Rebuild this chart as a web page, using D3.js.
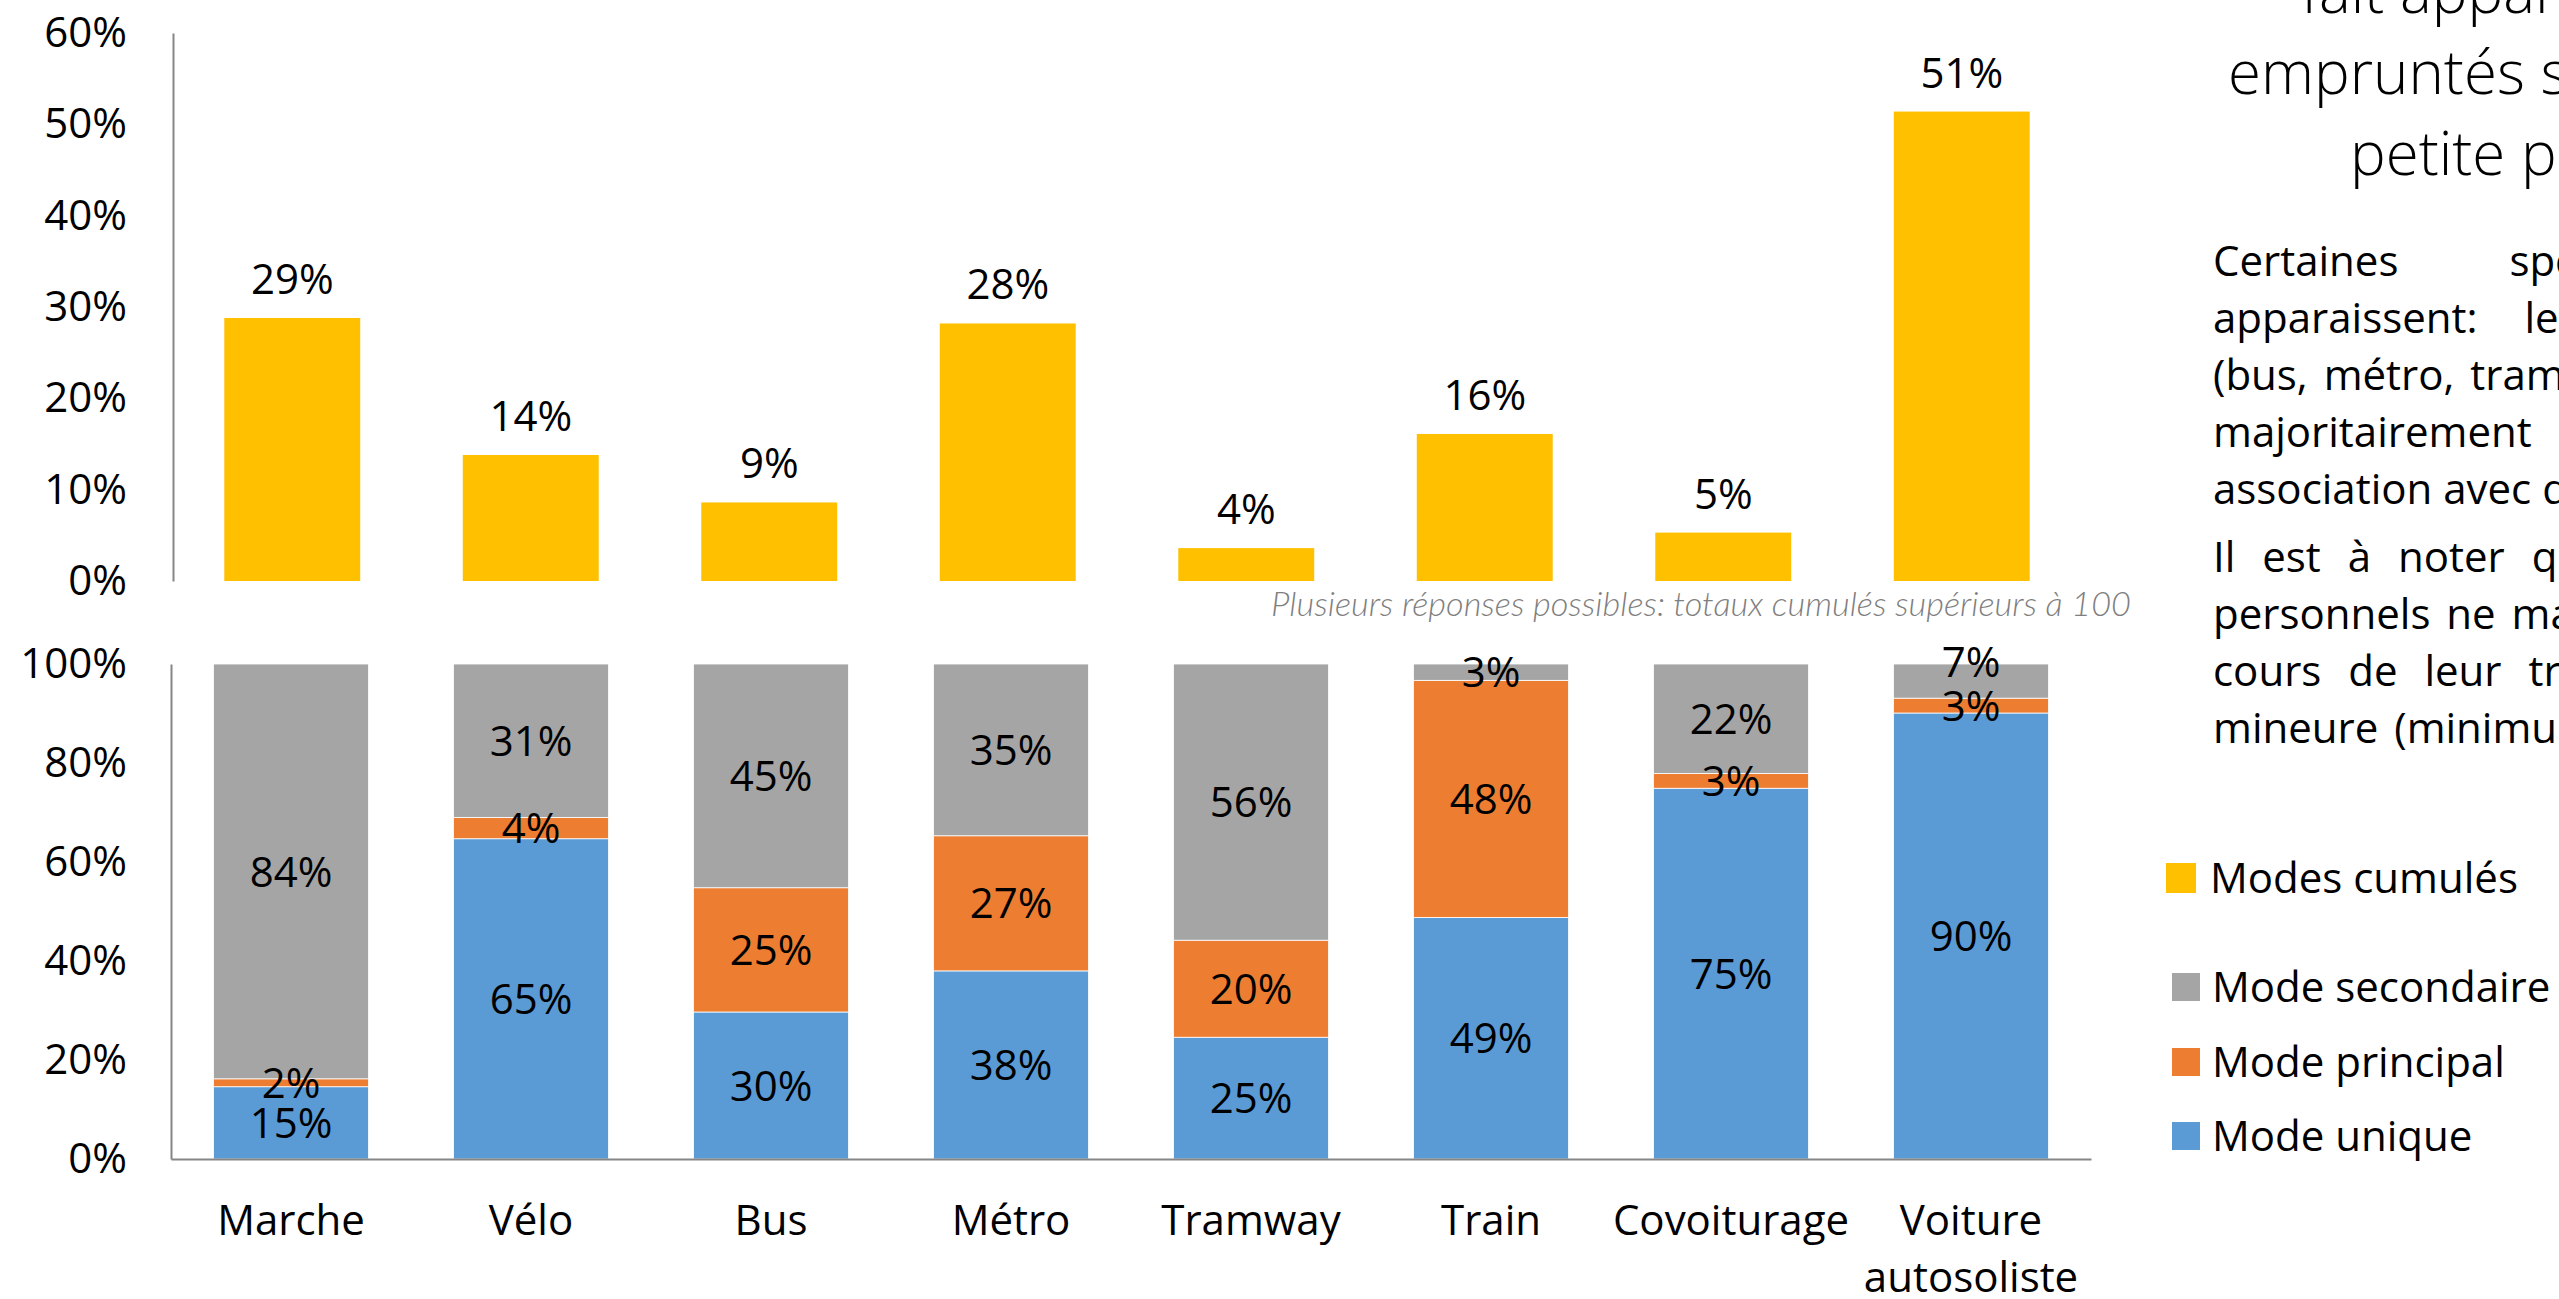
<!DOCTYPE html>
<html>
<head>
<meta charset="utf-8">
<script src="https://cdn.jsdelivr.net/npm/d3@7"></script>
<style>
  html, body { margin: 0; padding: 0; background: #fff; overflow: hidden; }
  svg { display: block; font-family: "Open Sans", sans-serif; }
</style>
</head>
<body>
<svg id="viz" width="2559" height="1299"></svg>
<script>
// --- data ---
const modes = ["Marche", "Vélo", "Bus", "Métro", "Tramway", "Train", "Covoiturage", "Voiture autosoliste"];
const cumules = [28.8, 13.8, 8.6, 28.2, 3.6, 16.1, 5.3, 51.4];
const unique = [14.6, 64.7, 29.7, 38.0, 24.6, 48.8, 74.9, 90.1];
const principal = [1.6, 4.3, 25.1, 27.3, 19.6, 47.9, 3.0, 3.0];
const secondaire = [83.8, 31.0, 45.2, 34.7, 55.8, 3.3, 22.1, 6.9];
const topTicks = [0, 10, 20, 30, 40, 50, 60];
const bottomTicks = [0, 20, 40, 60, 80, 100];
const legendNames = ["Modes cumulés", "Mode secondaire", "Mode principal", "Mode unique"];
const noteText = "Plusieurs réponses possibles: totaux cumulés supérieurs à 100";
const titleLines = ["fait apparaître que les modes", "empruntés seuls ne sont qu'une", "petite partie des trajets"];
const paraLines = [
  "Certaines spécificités",
  "apparaissent: les transports",
  "(bus, métro, tramway) sont",
  "majoritairement utilisés en",
  "association avec d'autres modes.",
  "Il est à noter que les modes",
  "personnels ne marchent que",
  "cours de leur trajet une part",
  "mineure (minimum de 3%)."
];
const paraSpacing = [100, 36, 5, 40, 0, 16, 5, 16, 5];

const colors = { cumules: "#FFC000", secondaire: "#A5A5A5", principal: "#ED7D31", unique: "#5B9BD5" };
const axisColor = "#868686";
const fs = 42;
const pct = v => d3.format(".0f")(v) + "%";

const svg = d3.select("#viz");

// --- top chart: modes cumulés ---
const xTop = d3.scaleBand().domain(modes).range([173, 2081]).paddingInner(0.43).paddingOuter(0.215);
const yTop = d3.scaleLinear().domain([0, 60]).range([581, 33]);

const topG = svg.append("g");
topG.append("g")
  .attr("transform", "translate(173,0)")
  .call(d3.axisLeft(yTop).tickValues(topTicks).tickSize(0).tickPadding(46).tickFormat(d => d + "%"))
  .call(g => g.select(".domain").attr("stroke", axisColor).attr("stroke-width", 2))
  .call(g => g.selectAll("text").attr("font-size", fs).attr("fill", "#000").attr("font-family", "Open Sans"));

topG.selectAll("rect.cum").data(modes).join("rect")
  .attr("class", "cum")
  .attr("x", d => xTop(d))
  .attr("width", xTop.bandwidth())
  .attr("y", (d, i) => yTop(cumules[i]))
  .attr("height", (d, i) => yTop(0) - yTop(cumules[i]))
  .attr("fill", colors.cumules);

topG.selectAll("text.cumlab").data(modes).join("text")
  .attr("class", "cumlab")
  .attr("x", d => xTop(d) + xTop.bandwidth() / 2)
  .attr("y", (d, i) => yTop(cumules[i]) - 24)
  .attr("text-anchor", "middle")
  .attr("font-size", fs)
  .text((d, i) => pct(cumules[i]));

svg.append("text")
  .attr("x", 2131).attr("y", 616)
  .attr("text-anchor", "end")
  .attr("font-family", "Lato, sans-serif")
  .attr("font-style", "italic")
  .attr("font-weight", 300)
  .attr("font-size", 33)
  .attr("textLength", 860)
  .attr("lengthAdjust", "spacingAndGlyphs")
  .attr("fill", "#7F7F7F")
  .text(noteText);

// --- bottom chart: stacked ---
const xBot = d3.scaleBand().domain(modes).range([171, 2091]).paddingInner(0.354).paddingOuter(0.177);
const yBot = d3.scaleLinear().domain([0, 100]).range([1159, 664]);

const rows = modes.map((m, i) => ({ mode: m, unique: unique[i], principal: principal[i], secondaire: secondaire[i] }));
const keys = ["unique", "principal", "secondaire"];
const stacked = d3.stack().keys(keys)(rows);

const botG = svg.append("g");
botG.selectAll("g.layer").data(stacked).join("g")
  .attr("class", "layer")
  .attr("fill", s => colors[s.key])
  .selectAll("rect").data(s => s).join("rect")
  .attr("x", d => xBot(d.data.mode))
  .attr("width", xBot.bandwidth())
  .attr("y", d => yBot(d[1]))
  .attr("height", d => yBot(d[0]) - yBot(d[1]))
  .attr("stroke", "#fff")
  .attr("stroke-width", 0.8);

// segment labels, centred; the secondaire label moves up if it would collide with principal
const labels = [];
rows.forEach((r, i) => {
  const centers = {};
  stacked.forEach(s => {
    const d = s[i];
    centers[s.key] = (yBot(d[0]) + yBot(d[1])) / 2;
  });
  if (centers.principal - centers.secondaire < 40) centers.secondaire = centers.principal - 44;
  keys.forEach(k => labels.push({ mode: r.mode, y: centers[k], v: r[k] }));
});
botG.selectAll("text.seglab").data(labels).join("text")
  .attr("class", "seglab")
  .attr("x", d => xBot(d.mode) + xBot.bandwidth() / 2)
  .attr("y", d => d.y)
  .attr("dy", "0.36em")
  .attr("text-anchor", "middle")
  .attr("font-size", fs)
  .text(d => pct(d.v));

botG.append("g")
  .attr("transform", "translate(171,0)")
  .call(d3.axisLeft(yBot).tickValues(bottomTicks).tickSize(0).tickPadding(44).tickFormat(d => d + "%"))
  .call(g => g.select(".domain").attr("stroke", axisColor).attr("stroke-width", 2))
  .call(g => g.selectAll("text").attr("font-size", fs).attr("fill", "#000").attr("font-family", "Open Sans"));

const xAxisG = botG.append("g")
  .attr("transform", "translate(0,1159)")
  .call(d3.axisBottom(xBot).tickSize(0).tickPadding(0).tickFormat(""))
  .call(g => g.select(".domain").attr("stroke", axisColor).attr("stroke-width", 2));

xAxisG.selectAll(".tick text").each(function(d) {
  const t = d3.select(this)
    .attr("font-size", fs).attr("fill", "#000").attr("font-family", "Open Sans")
    .attr("y", 76).attr("dy", 0);
  d.split(" ").forEach((w, j) => {
    t.append("tspan").attr("x", 0).attr("dy", j === 0 ? 0 : "1.36em").text(w);
  });
});

// --- legend ---
const legY = [878, 987, 1062, 1136];
const legKeys = ["cumules", "secondaire", "principal", "unique"];
const legG = svg.append("g").selectAll("g").data(legendNames).join("g")
  .attr("transform", (d, i) => `translate(${i === 0 ? 2166 : 2172},${legY[i]})`);
legG.append("rect")
  .attr("x", 0).attr("y", (d, i) => i === 0 ? -15 : -14)
  .attr("width", (d, i) => i === 0 ? 30 : 28)
  .attr("height", (d, i) => i === 0 ? 30 : 28)
  .attr("fill", (d, i) => colors[legKeys[i]]);
legG.append("text")
  .attr("x", (d, i) => i === 0 ? 44 : 40)
  .attr("dy", "0.36em")
  .attr("font-size", fs)
  .text(d => d);

// --- side text (cut off by the page edge) ---
svg.append("g").selectAll("text").data(titleLines).join("text")
  .attr("x", (d, i) => [2301, 2228, 2350][i])
  .attr("y", (d, i) => 13 + i * 81)
  .attr("font-size", 60)
  .attr("font-weight", 300)
  .attr("fill", "#000")
  .text(d => d);

svg.append("g").selectAll("text").data(paraLines).join("text")
  .attr("x", 2213)
  .attr("y", (d, i) => 276 + i * 57 + (i >= 5 ? 11 : 0))
  .attr("font-size", fs)
  .attr("word-spacing", (d, i) => paraSpacing[i])
  .attr("fill", "#000")
  .text(d => d);
</script>
</body>
</html>
